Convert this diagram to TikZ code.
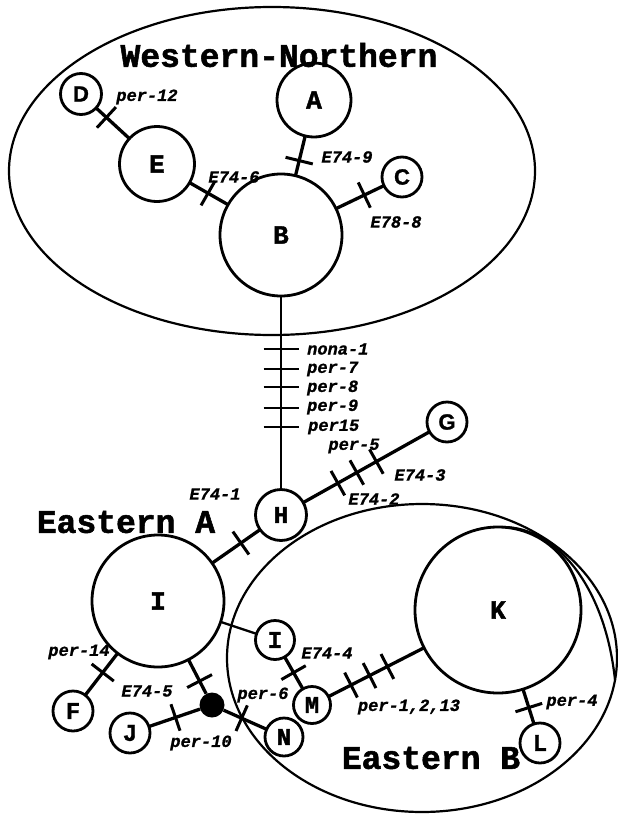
\documentclass[tikz,border=0pt]{standalone}
\usepackage{fontspec}
\newfontfamily\cour[FakeBold=1.6]{Liberation Mono}
\newfontfamily\courl[FakeBold=1.0]{Liberation Mono}
\newfontfamily\arl[FakeBold=1.2]{Liberation Sans}
\newcommand\tkr{\rule{3pt}{28pt}}
\newcommand\tkv{\rule{2.6pt}{35pt}}
\begin{document}
\begin{tikzpicture}[x=1pt,y=-1pt,
  hap/.style={circle,draw,line width=2.8pt,inner sep=0pt,outer sep=0pt,
    font=\cour\bfseries\fontsize{26}{26}\selectfont},
  smallhap/.style={hap,font=\cour\bfseries\fontsize{24}{24}\selectfont},
  sanshap/.style={hap,font=\arl\bfseries\fontsize{22}{22}\selectfont},
  edge/.style={line width=3.3pt},
  thinedge/.style={line width=2.3pt},
  tk/.style={sloped,inner sep=0pt,outer sep=0pt,anchor=center},
  lab/.style={inner sep=0pt,font=\courl\bfseries\itshape\fontsize{17}{17}\selectfont},
  ttl/.style={inner sep=0pt,font=\cour\bfseries\fontsize{33}{33}\selectfont},
  group/.style={line width=2.2pt}
]
\useasboundingbox (0,0) rectangle (618,814);
% group outlines
\draw[group] (272,171) ellipse [x radius=263pt, y radius=164pt];
\draw[group] (422,658) ellipse [x radius=195pt, y radius=154pt];
\draw[group] (503,527) .. controls (555,527) and (605,585) .. (615,680);
% titles
\node[ttl] (tWN) at (279,55) {Western-Northern};
\node[ttl] (tEA) at (126,522) {Eastern A};
\node[ttl] (tEB) at (431,758) {Eastern B};
% haplotypes
\node[sanshap,minimum size=41pt] (D) at (81,94) {D};
\node[hap,minimum size=74pt] (A) at (314,100) {A};
\node[hap,minimum size=75pt] (E) at (157,164) {E};
\node[sanshap,minimum size=40pt] (C) at (402,177) {C};
\node[hap,minimum size=122pt] (B) at (281,235) {B};
\node[smallhap,minimum size=51pt] (H) at (281,515) {H};
\node[sanshap,minimum size=40pt] (G) at (447,422) {G};
\node[hap,minimum size=132pt] (I) at (158,601) {I};
\node[smallhap,minimum size=39pt] (I2) at (275,640) {I};
\node[smallhap,minimum size=37pt] (M) at (312,705) {M};
\node[smallhap,minimum size=38pt] (N) at (284,737) {N};
\node[hap,minimum size=166pt] (K) at (498,610) {K};
\node[smallhap,minimum size=40pt] (L) at (540,743) {L};
\node[smallhap,minimum size=40pt] (F) at (73,711) {F};
\node[smallhap,minimum size=40pt] (J) at (130,733) {J};
\node[circle,fill,inner sep=0pt,minimum size=25pt] (dot) at (212,705) {};
% connectors with mutation ticks
\draw[edge] (D) -- node[tk,pos=.31]{\tkr} (E);
\draw[edge] (A) -- node[tk,pos=.62]{\tkr} (B);
\draw[edge] (E) -- node[tk,pos=.48]{\tkr} (B);
\draw[edge] (B) -- node[tk,pos=.59]{\tkr} (C);
\draw[thinedge] (B) -- node[tk,pos=.274]{\tkv} node[tk,pos=.377]{\tkv}
  node[tk,pos=.470]{\tkv} node[tk,pos=.579]{\tkv} node[tk,pos=.677]{\tkv} (H);
\draw[edge] (H) -- node[tk,pos=.274]{\tkr} node[tk,pos=.424]{\tkr}
  node[tk,pos=.579]{\tkr} (G);
\draw[edge] (I) -- node[tk,pos=.60]{\tkr} (H);
\draw[thinedge] (I) -- (I2);
\draw[edge] (I) -- node[tk,pos=.46]{\tkr} (F);
\draw[edge] (I) -- node[tk,pos=.63]{\tkr} (dot);
\draw[edge] (dot) -- node[tk,pos=.48]{\tkr} (J);
\draw[edge] (dot) -- node[tk,pos=.42]{\tkr} (N);
\draw[edge] (I2) -- node[tk,pos=.49]{\tkr} (M);
\draw[edge] (M) -- node[tk,pos=.236]{\tkr} node[tk,pos=.43]{\tkr}
  node[tk,pos=.616]{\tkr} (K);
\draw[edge] (K) -- node[tk,pos=.53]{\tkr} (L);
% mutation labels
\node[lab] (l1) at (147,97) {per-12};
\node[lab] (l2) at (347,157) {E74-9};
\node[lab] (l3) at (234,177) {E74-6};
\node[lab] (l4) at (396,222) {E78-8};
\node[lab,anchor=west] (l5) at (307,349) {nona-1};
\node[lab,anchor=west] (l6) at (307,369) {per-7};
\node[lab,anchor=west] (l7) at (307,388) {per-8};
\node[lab,anchor=west] (l8) at (307,407) {per-9};
\node[lab,anchor=west] (l9) at (308,427) {per15};
\node[lab] (l10) at (354,446) {per-5};
\node[lab] (l11) at (420,475) {E74-3};
\node[lab] (l12) at (374,499) {E74-2};
\node[lab] (l13) at (215,494) {E74-1};
\node[lab] (l14) at (79,652) {per-14};
\node[lab] (l15) at (147,691) {E74-5};
\node[lab] (l16) at (201,743) {per-10};
\node[lab] (l17) at (263,695) {per-6};
\node[lab] (l18) at (327,653) {E74-4};
\node[lab] (l19) at (409,707) {per-1,2,13};
\node[lab] (l20) at (572,702) {per-4};
\end{tikzpicture}
\end{document}
